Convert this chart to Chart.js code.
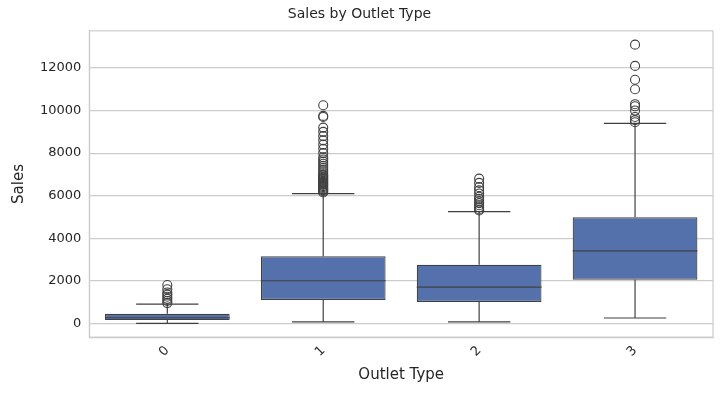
<!DOCTYPE html>
<html>
<head>
<meta charset="utf-8">
<script src="https://cdn.jsdelivr.net/npm/chart.js@4.4.1/dist/chart.umd.min.js"></script>
<style>
  body { margin: 0; background: #fff; }
</style>
</head>
<body>
<canvas id="chart" width="724" height="404"></canvas>
<script>
// data
const categories = ["0", "1", "2", "3"];
const yTicks = [0, 2000, 4000, 6000, 8000, 10000, 12000];
const whiskerLow = [0, 70, 70, 250];
const q1 = [150, 1100, 1000, 2050];
const median = [260, 2000, 1700, 3400];
const q3 = [450, 3150, 2750, 4980];
const whiskerHigh = [900, 6100, 5250, 9400];
const outliers = [
  [950, 1050, 1150, 1250, 1350, 1450, 1600, 1800],
  [6150, 6200, 6250, 6300, 6350, 6400, 6450, 6500, 6550, 6600, 6650, 6700, 6750, 6800,
   6850, 6900, 6950, 7000, 7100, 7200, 7300, 7400, 7500, 7600, 7700, 7800, 8000, 8200,
   8400, 8600, 8800, 9000, 9200, 9700, 9750, 10250],
  [5300, 5350, 5450, 5550, 5650, 5750, 5850, 5950, 6100, 6250, 6400, 6600, 6800],
  [9450, 9550, 9700, 10000, 10200, 10300, 11000, 11450, 12100, 13100]
];

const boxColor = "#5471ab";
const edgeColor = "#404040";
const halfBox = 0.4;
const halfCap = 0.2;

document.addEventListener("DOMContentLoaded", function () {
    // whiskers, caps and medians as line segments separated by gaps
    let whiskerPts = [];
    let medianPts = [];
    categories.forEach((c, i) => {
        whiskerPts.push({ x: i, y: whiskerLow[i] }, { x: i, y: q1[i] }, { x: i, y: NaN });
        whiskerPts.push({ x: i, y: q3[i] }, { x: i, y: whiskerHigh[i] }, { x: i, y: NaN });
        whiskerPts.push({ x: i - halfCap, y: whiskerLow[i] }, { x: i + halfCap, y: whiskerLow[i] }, { x: i, y: NaN });
        whiskerPts.push({ x: i - halfCap, y: whiskerHigh[i] }, { x: i + halfCap, y: whiskerHigh[i] }, { x: i, y: NaN });
        medianPts.push({ x: i - halfBox, y: median[i] }, { x: i + halfBox, y: median[i] }, { x: i, y: NaN });
    });
    let outlierPts = [];
    outliers.forEach((list, i) => list.forEach(v => outlierPts.push({ x: i, y: v })));

    const font = { family: "DejaVu Sans", size: 13 };
    const labelFont = { family: "DejaVu Sans", size: 15 };
    new Chart(document.getElementById("chart"), {
        data: {
            datasets: [
                {
                    type: "bar",
                    data: categories.map((c, i) => ({ x: i, y: [q1[i], q3[i]] })),
                    backgroundColor: boxColor,
                    borderColor: edgeColor,
                    borderWidth: 1.2,
                    borderSkipped: false,
                    barPercentage: 0.8,
                    categoryPercentage: 1,
                    order: 3
                },
                {
                    type: "line",
                    data: whiskerPts,
                    borderColor: edgeColor,
                    borderWidth: 1.2,
                    pointRadius: 0,
                    spanGaps: false,
                    order: 2
                },
                {
                    type: "line",
                    data: medianPts,
                    borderColor: edgeColor,
                    borderWidth: 1.2,
                    pointRadius: 0,
                    spanGaps: false,
                    order: 1
                },
                {
                    type: "scatter",
                    data: outlierPts,
                    pointRadius: 4.5,
                    pointBackgroundColor: "rgba(0,0,0,0)",
                    pointBorderColor: edgeColor,
                    pointBorderWidth: 1.1,
                    order: 0
                }
            ]
        },
        options: {
            responsive: false,
            animation: false,
            layout: { padding: { left: 6, right: 11, top: 2, bottom: 16 } },
            plugins: {
                legend: { display: false },
                tooltip: { enabled: false },
                title: { display: true, text: "Sales by Outlet Type", color: "#262626", font: { family: "DejaVu Sans", size: 14, weight: "normal" }, padding: { top: 4, bottom: 8 } }
            },
            scales: {
                x: {
                    type: "linear",
                    min: -0.5,
                    max: 3.5,
                    offset: false,
                    afterBuildTicks: axis => { axis.ticks = categories.map((c, i) => ({ value: i })); },
                    ticks: {
                        callback: v => categories[v],
                        color: "#262626",
                        font: font,
                        minRotation: 45,
                        maxRotation: 45,
                        padding: 6
                    },
                    grid: { display: false, drawTicks: false },
                    border: { color: "#cccccc", width: 1.2 },
                    title: { display: true, text: "Outlet Type", color: "#262626", font: labelFont, padding: { top: 0 } }
                },
                y: {
                    min: -650,
                    max: 13750,
                    afterBuildTicks: axis => { axis.ticks = yTicks.map(v => ({ value: v })); },
                    ticks: { color: "#262626", font: font, padding: 8, callback: v => String(v) },
                    grid: { color: "#cccccc", lineWidth: 1.2, drawTicks: false },
                    border: { color: "#cccccc", width: 1.2 },
                    title: { display: true, text: "Sales", color: "#262626", font: labelFont }
                }
            }
        },
        plugins: [{
            id: "frame",
            afterDraw(chart) {
                const a = chart.chartArea, ctx = chart.ctx;
                ctx.save();
                ctx.strokeStyle = "#cccccc";
                ctx.lineWidth = 1.2;
                ctx.strokeRect(a.left, a.top, a.right - a.left, a.bottom - a.top);
                ctx.restore();
            }
        }]
    });
});
</script>
</body>
</html>
